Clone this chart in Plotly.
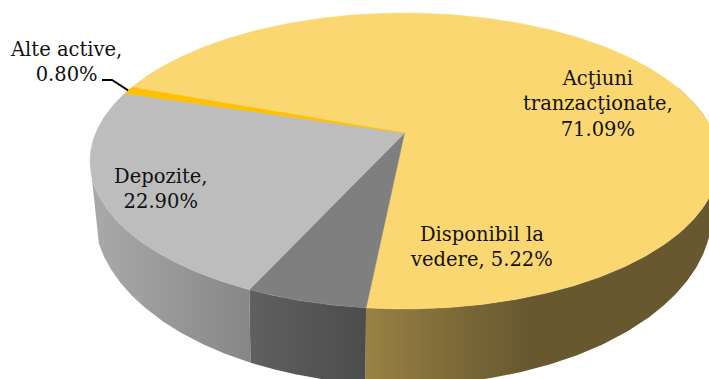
import numpy as np
import plotly.graph_objects as go

# Portfolio structure, percent
categories = ["Acţiuni tranzacţionate", "Disponibil la vedere", "Depozite", "Alte active"]
values = [71.09, 5.22, 22.90, 0.80]
top_colors = ["#FBD771", "#7F7F7F", "#BDBDBD", "#FFC000"]
label_lines = [["Acţiuni", "tranzacţionate,"], ["Disponibil la", "vedere,"], ["Depozite,"], ["Alte active,"]]
label_anchor = [(598, 104), (481, 247), (160, 189), (66, 62)]

FIRST_SLICE_DEG = 160.1   # angle where the first slice begins, running clockwise
W, H = 709, 379

# Projected disc geometry for the upper and lower rim: centre, half-axes, foreshortening
UPPER = dict(x0=404.5, y0=133.0, A=308.8, B=142.7, k=0.189)
LOWER = dict(x0=403.0, y0=180.5, A=303.5, B=165.9, k=0.189)

# Side-wall shading per slice: screen x stops and their colours
wall_stops = {
    0: [(365, "rgb(154,130,68)"), (450, "rgb(126,107,57)"), (530, "rgb(103,88,48)"), (720, "rgb(103,88,48)")],
    1: [(248, "rgb(96,96,96)"), (368, "rgb(76,76,76)")],
    2: [(90, "rgb(170,170,170)"), (253, "rgb(134,134,134)")],
}


def project(theta, g):
    u, v = np.cos(theta), np.sin(theta)
    w = 1 + g["k"] * v
    return g["x0"] + g["A"] * u / w, g["y0"] - g["B"] * v / w


# Slice boundaries follow directly from the values
total = sum(values)
sweeps = [np.radians(v / total * 360) for v in values]
starts = np.radians(FIRST_SLICE_DEG) - np.concatenate([[0], np.cumsum(sweeps)[:-1]])

# Visible span of each wall: near edge, then where the upper and lower rims leave the silhouette
wall_spans = {
    0: (starts[0] - sweeps[0], np.radians(20), np.radians(20)),
    1: (starts[1], starts[1] - sweeps[1], starts[1] - sweeps[1]),
    2: (starts[2], np.radians(191 - 360), np.radians(200 - 360)),
}

fig = go.Figure()

# Side walls with a horizontal gradient
for i, stops in wall_stops.items():
    near, far_upper, far_lower = wall_spans[i]
    ux, uy = project(np.linspace(near, far_upper, 160), UPPER)
    lx, ly = project(np.linspace(near, far_lower, 160), LOWER)
    x0, x1 = stops[0][0], stops[-1][0]
    scale = [[(x - x0) / (x1 - x0), c] for x, c in stops]
    fig.add_trace(go.Scatter(
        x=np.concatenate([ux, lx[::-1], ux[:1]]),
        y=np.concatenate([uy, ly[::-1], uy[:1]]),
        mode="lines", line=dict(width=0), fill="toself",
        fillgradient=dict(type="horizontal", colorscale=scale, start=x0, stop=x1),
        hoverinfo="skip", showlegend=False))

# Top face of each slice
for start, sweep, color, name in zip(starts, sweeps, top_colors, categories):
    ang = np.linspace(start, start - sweep, max(int(np.degrees(sweep)) * 2, 8))
    rx, ry = project(ang, UPPER)
    xs = np.concatenate([[UPPER["x0"]], rx, [UPPER["x0"]]])
    ys = np.concatenate([[UPPER["y0"]], ry, [UPPER["y0"]]])
    fig.add_trace(go.Scatter(x=xs, y=ys, mode="lines", fill="toself", fillcolor=color,
                             line=dict(color=color, width=0.5), name=name,
                             hoverinfo="skip", showlegend=False))

# Leader line for the smallest slice
mid_small = starts[3] - sweeps[3] / 2
ex, ey = project(mid_small, UPPER)
fig.add_trace(go.Scatter(x=[102, 112, float(ex)], y=[80, 80, float(ey)], mode="lines",
                         line=dict(color="#000000", width=1.8), hoverinfo="skip", showlegend=False))

# Data labels
for lines, val, (lx, ly) in zip(label_lines, values, label_anchor):
    if lines[-1] == "vedere,":
        text = "<br>".join(lines[:-1] + [f"{lines[-1]} {val:.2f}%"])
    else:
        text = "<br>".join(lines + [f"{val:.2f}%"])
    fig.add_annotation(x=lx, y=ly, text=text, showarrow=False, align="center",
                       xanchor="center", yanchor="middle",
                       font=dict(family="DejaVu Serif", size=19.5, color="#111111"))

fig.update_xaxes(range=[0, W], visible=False, fixedrange=True)
fig.update_yaxes(range=[H, 0], visible=False, fixedrange=True)
fig.update_layout(width=W, height=H, autosize=False, margin=dict(l=0, r=0, t=0, b=0),
                  paper_bgcolor="white", plot_bgcolor="white", showlegend=False)

fig.write_html("out.html")
